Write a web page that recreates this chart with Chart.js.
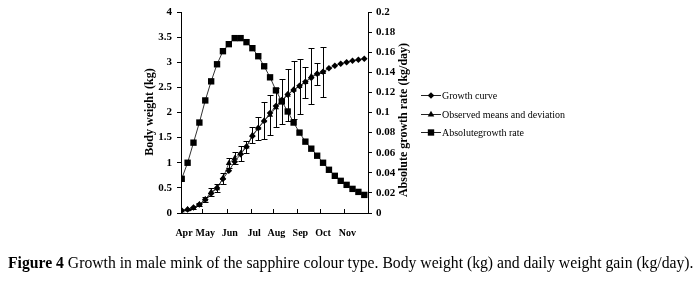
<!DOCTYPE html>
<html><head><meta charset="utf-8">
<script src="https://cdn.jsdelivr.net/npm/chart.js@4.4.0/dist/chart.umd.min.js"></script>
<style>
html,body{margin:0;padding:0;background:#fff;width:700px;height:283px;overflow:hidden;}
#wrap{position:absolute;left:0;top:0;width:700px;height:283px;}
#caption{position:absolute;left:8px;top:254px;font-family:"Liberation Serif","Times New Roman",serif;font-size:15.7px;color:#000;white-space:nowrap;line-height:18px;}
</style></head><body>
<div id="wrap"><canvas id="c" width="700" height="283"></canvas></div>
<div id="caption"><b>Figure 4</b> Growth in male mink of the sapphire colour type. Body weight (kg) and daily weight gain (kg/day).</div>
<script>
// ---- data ----
const weeks = [1,2,3,4,5,6,7,8,9,10,11,12,13,14,15,16,17,18,19,20,21,22,23,24,25,26,27,28,29,30,31,32];
const growthCurve = [0.05,0.07,0.11,0.17,0.27,0.39,0.50,0.68,0.84,1.02,1.17,1.32,1.53,1.69,1.83,1.99,2.13,2.25,2.36,2.45,2.53,2.61,2.69,2.77,2.81,2.88,2.93,2.97,3.00,3.03,3.05,3.07];
const absGrowthRate = [0.034,0.050,0.070,0.090,0.112,0.131,0.148,0.161,0.168,0.174,0.174,0.170,0.164,0.156,0.146,0.135,0.122,0.111,0.101,0.090,0.080,0.071,0.064,0.057,0.050,0.043,0.037,0.032,0.028,0.024,0.021,0.018];
const observedMeans = [0.05,0.07,0.10,0.17,0.27,0.42,0.49,0.69,0.99,1.09,1.19,1.32,1.55,1.69,1.84,1.95,2.10,2.22,2.35,2.45,2.52,2.60,2.72,2.77,2.80];
const observedSD = [0,0.01,0.02,0.03,0.05,0.08,0.08,0.11,0.10,0.12,0.15,0.12,0.16,0.23,0.37,0.40,0.38,0.44,0.51,0.58,0.54,0.31,0.56,0.22,0.50];
const monthLabels = ['Apr','May','Jun','Jul','Aug','Sep','Oct','Nov'];
const monthTickPositions = [0.88,4.5,8.65,12.78,16.56,20.64,24.49,28.62];
const leftTickValues = [0,0.5,1,1.5,2,2.5,3,3.5,4];
const leftTickLabels = ['0','0.5','1','1.5','2','2.5','3','3.5','4'];
const rightTickValues = [0,0.02,0.04,0.06,0.08,0.1,0.12,0.14,0.16,0.18,0.2];
const rightTickLabels = ['0','0.02','0.04','0.06','0.08','0.1','0.12','0.14','0.16','0.18','0.2'];
const seriesNames = ['Growth curve','Observed means and deviation','Absolutegrowth rate'];

const SERIF = '"Liberation Serif","Times New Roman",serif';
const tickFont = {family: SERIF, size: 11, weight: 'bold'};
const xTickFont = {family: SERIF, size: 10, weight: 'bold'};

const overlay = {
  id: 'overlay',
  afterDatasetsDraw(chart) {
    const ctx = chart.ctx, xs = chart.scales.x, yl = chart.scales.yL;
    ctx.save();
    ctx.strokeStyle = '#000'; ctx.lineWidth = 1;
    observedMeans.forEach((m, i) => {
      const sd = observedSD[i]; if (!sd) return;
      const x = Math.round(xs.getPixelForValue(weeks[i])) + 0.5;
      const y1 = Math.round(yl.getPixelForValue(m + sd)) + 0.5;
      const y2 = Math.round(yl.getPixelForValue(m - sd)) + 0.5;
      ctx.beginPath();
      ctx.moveTo(x, y1); ctx.lineTo(x, y2);
      ctx.moveTo(x - 3, y1); ctx.lineTo(x + 3, y1);
      ctx.moveTo(x - 3, y2); ctx.lineTo(x + 3, y2);
      ctx.stroke();
    });
    ctx.restore();
  },
  afterDraw(chart) {
    const ctx = chart.ctx, xs = chart.scales.x, area = chart.chartArea;
    ctx.save();
    // inward x ticks
    ctx.strokeStyle = '#000'; ctx.lineWidth = 1;
    ctx.beginPath();
    monthTickPositions.forEach((v, i) => {
      if (i === 0) return;
      const x = Math.round(xs.getPixelForValue(v)) + 0.5;
      ctx.moveTo(x, area.bottom); ctx.lineTo(x, area.bottom - 4);
    });
    ctx.stroke();
    // axis titles
    ctx.fillStyle = '#000';
    ctx.font = 'bold 12px ' + SERIF;
    ctx.textAlign = 'center'; ctx.textBaseline = 'middle';
    ctx.save(); ctx.translate(150, 112); ctx.rotate(-Math.PI / 2);
    ctx.fillText('Body weight (kg)', 0, 0); ctx.restore();
    ctx.save(); ctx.translate(404, 120); ctx.rotate(-Math.PI / 2);
    ctx.fillText('Absolute growth rate (kg/day)', 0, 0); ctx.restore();
    // legend
    const styles = [
      {pointStyle: 'rectRot', radius: 3.3},
      {pointStyle: 'triangle', radius: 3.8},
      {pointStyle: 'rect', radius: 4.5}
    ];
    const rows = [95, 114, 132];
    ctx.font = '10px ' + SERIF;
    ctx.textAlign = 'left';
    rows.forEach((y, i) => {
      ctx.strokeStyle = '#222'; ctx.lineWidth = 1;
      ctx.beginPath(); ctx.moveTo(421, y + 0.5); ctx.lineTo(441, y + 0.5); ctx.stroke();
      ctx.fillStyle = '#000'; ctx.strokeStyle = '#000';
      Chart.helpers.drawPoint(ctx, {pointStyle: styles[i].pointStyle, radius: styles[i].radius, borderWidth: 0, rotation: 0}, 431, y + 0.5);
      ctx.fillStyle = '#000';
      ctx.fillText(seriesNames[i], 442, y + 1);
    });
    ctx.restore();
  }
};

const pts = (ys) => ys.map((y, i) => ({x: weeks[i], y}));

new Chart(document.getElementById('c'), {
  type: 'line',
  data: {
    datasets: [
      {label: seriesNames[2], yAxisID: 'yR', data: pts(absGrowthRate),
       borderColor: '#333', borderWidth: 1, pointStyle: 'rect', pointRadius: 4.5,
       pointBackgroundColor: '#000', pointBorderColor: '#000', pointBorderWidth: 0, tension: 0},
      {label: seriesNames[0], yAxisID: 'yL', data: pts(growthCurve),
       borderColor: '#333', borderWidth: 1, pointStyle: 'rectRot', pointRadius: 3.3,
       pointBackgroundColor: '#000', pointBorderColor: '#000', pointBorderWidth: 0, tension: 0},
      {label: seriesNames[1], yAxisID: 'yL', data: pts(observedMeans),
       borderColor: '#555', borderWidth: 1, pointStyle: 'triangle', pointRadius: 3.5,
       pointBackgroundColor: '#000', pointBorderColor: '#000', pointBorderWidth: 0, tension: 0}
    ]
  },
  options: {
    responsive: false, animation: false, devicePixelRatio: 1,
    layout: {padding: {top: 12, left: 0, right: 0, bottom: 0}},
    plugins: {legend: {display: false}, tooltip: {enabled: false}},
    scales: {
      x: {
        type: 'linear', min: 0.88, max: 32.63,
        afterBuildTicks: (s) => { s.ticks = monthTickPositions.map(v => ({value: v})); },
        afterFit: (s) => { s.height = 70; },
        grid: {display: false},
        border: {display: true, color: '#000', width: 1},
        ticks: {autoSkip: false, maxRotation: 0, padding: 6, labelOffset: 3, color: '#000', font: xTickFont,
                callback: (v, i) => monthLabels[i]}
      },
      yL: {
        position: 'left', min: 0, max: 4,
        afterBuildTicks: (s) => { s.ticks = leftTickValues.map(v => ({value: v})); },
        afterFit: (s) => { s.width = 181; },
        grid: {display: true, drawOnChartArea: false, drawTicks: true, tickLength: 4, color: '#000'},
        border: {display: true, color: '#000', width: 1},
        ticks: {padding: 5, color: '#000', font: tickFont, callback: (v, i) => leftTickLabels[i]}
      },
      yR: {
        position: 'right', min: 0, max: 0.2,
        afterBuildTicks: (s) => { s.ticks = rightTickValues.map(v => ({value: v})); },
        afterFit: (s) => { s.width = 332; },
        grid: {display: true, drawOnChartArea: false, drawTicks: true, tickLength: 4, color: '#000'},
        border: {display: true, color: '#000', width: 1},
        ticks: {padding: 4, color: '#000', font: tickFont, callback: (v, i) => rightTickLabels[i]}
      }
    }
  },
  plugins: [overlay]
});
</script>
</body></html>
